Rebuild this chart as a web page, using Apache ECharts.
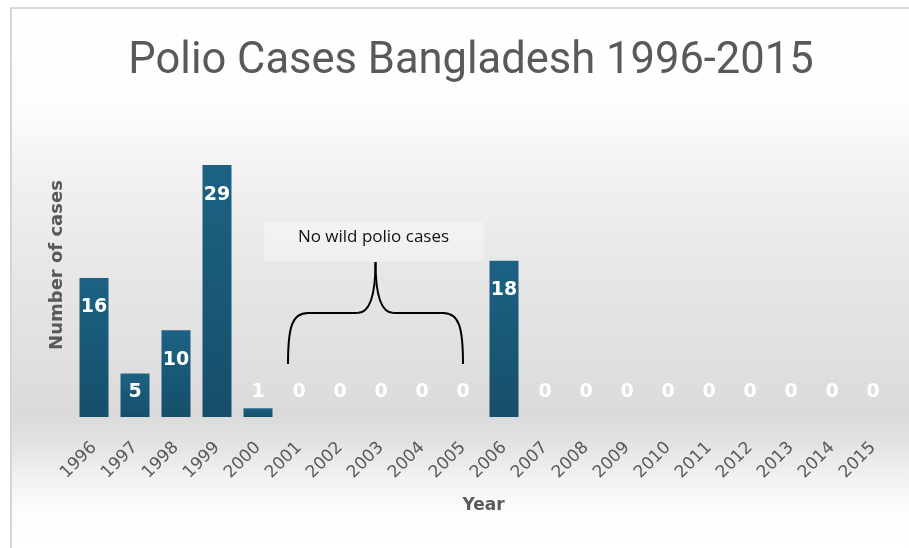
<!DOCTYPE html>
<html>
<head>
<meta charset="utf-8">
<script src="https://cdn.jsdelivr.net/npm/echarts@6/dist/echarts.min.js"></script>
<style>
  html, body { margin: 0; padding: 0; background: #ffffff; }
  #frame {
    position: absolute; left: 10px; top: 7px; width: 899px; height: 541px;
    border-left: 2px solid #d4d4d4; border-top: 2px solid #d9d9d9;
    background: linear-gradient(to bottom, #ffffff 0px, #fdfdfd 95px, #f2f2f2 160px, #e7e7e7 260px, #dfdfdf 360px, #dadada 405px, #e3e3e3 435px, #f2f2f2 470px, #fdfdfd 505px, #ffffff 541px);
  }
  #main { position: absolute; left: 0; top: 0; width: 909px; height: 548px; }
</style>
</head>
<body>
<div id="frame"></div>
<div id="main"></div>
<script>
const chartTitle = 'Polio Cases Bangladesh 1996-2015';
const years = ['1996','1997','1998','1999','2000','2001','2002','2003','2004','2005',
               '2006','2007','2008','2009','2010','2011','2012','2013','2014','2015'];
const cases = [16, 5, 10, 29, 1, 0, 0, 0, 0, 0, 18, 0, 0, 0, 0, 0, 0, 0, 0, 0];
const xAxisTitle = 'Year';
const yAxisTitle = 'Number of cases';
const noteText = 'No wild polio cases';
const noteFrom = '2001';
const noteTo = '2005';

const chart = echarts.init(document.getElementById('main'), null, { renderer: 'canvas' });

const barData = cases.map(v => ({
  value: v,
  label: v >= 8
    ? { position: 'insideTop', distance: 20 }
    : { position: 'insideBottom', distance: 15 }
}));

const option = {
  backgroundColor: 'transparent',
  animation: false,
  title: {
    text: chartTitle,
    left: 466,
    top: 35,
    textAlign: 'center',
    textStyle: { fontFamily: 'Roboto', fontSize: 43.5, fontWeight: 'normal', color: '#595959' }
  },
  grid: { left: 73.5, right: 15.5, top: 113, bottom: 131 },
  xAxis: {
    type: 'category',
    data: years,
    axisLine: { show: false },
    axisTick: { show: false },
    axisLabel: {
      interval: 0, rotate: 45, margin: 28,
      fontFamily: 'DejaVu Sans', fontSize: 17, color: '#595959'
    },
    name: xAxisTitle,
    nameLocation: 'middle',
    nameGap: 80,
    nameTextStyle: { fontFamily: 'DejaVu Sans', fontSize: 17, fontWeight: 'bold', color: '#595959' }
  },
  yAxis: {
    type: 'value',
    min: 0,
    max: 35,
    axisLine: { show: false },
    axisTick: { show: false },
    axisLabel: { show: false },
    splitLine: { show: false },
    name: yAxisTitle,
    nameLocation: 'middle',
    nameGap: 7,
    nameTextStyle: { fontFamily: 'DejaVu Sans', fontSize: 18, fontWeight: 'bold', color: '#595959' }
  },
  series: [{
    type: 'bar',
    data: barData,
    barWidth: 29,
    itemStyle: {
      color: new echarts.graphic.LinearGradient(0, 0, 0, 1, [
        { offset: 0, color: '#1c6283' },
        { offset: 1, color: '#164e6b' }
      ])
    },
    label: {
      show: true,
      color: '#ffffff',
      fontFamily: 'DejaVu Sans',
      fontWeight: 'bold',
      fontSize: 19
    }
  }]
};

chart.setOption(option);

// Annotation (brace + note box) anchored to the axes
const pFrom = chart.convertToPixel({ xAxisIndex: 0, yAxisIndex: 0 }, [noteFrom, 0]);
const pTo = chart.convertToPixel({ xAxisIndex: 0, yAxisIndex: 0 }, [noteTo, 0]);
const x1 = pFrom[0] - 11;
const x2 = pTo[0];
const cx = (x1 + x2) / 2;
const base = pFrom[1];
const yb = base - 53;
const yh = base - 104;
const yt = base - 155;

const stroke = { stroke: '#000000', lineWidth: 2, fill: null };
function bez(a, b, c, d) {
  return {
    type: 'bezierCurve', z: 11, style: stroke,
    shape: { x1: a[0], y1: a[1], cpx1: b[0], cpy1: b[1], cpx2: c[0], cpy2: c[1], x2: d[0], y2: d[1] }
  };
}
function seg(a, b) {
  return { type: 'line', z: 11, style: stroke, shape: { x1: a[0], y1: a[1], x2: b[0], y2: b[1] } };
}

chart.setOption({
  graphic: [
    {
      type: 'rect',
      shape: { x: cx - 111, y: yt - 40, width: 219, height: 39 },
      style: { fill: 'rgba(255,255,255,0.35)' },
      z: 10
    },
    {
      type: 'text',
      x: cx - 2, y: yt - 25,
      style: {
        text: noteText, fontFamily: 'Open Sans', fontSize: 17,
        fill: '#111111', align: 'center', verticalAlign: 'middle'
      },
      z: 11
    },
    bez([x1, yb], [x1, yh + 14], [x1 + 4, yh], [x1 + 20, yh]),
    seg([x1 + 20, yh], [cx - 18, yh]),
    bez([cx - 18, yh], [cx - 6, yh], [cx, yh - 16], [cx, yt]),
    bez([cx, yt], [cx, yh - 16], [cx + 6, yh], [cx + 18, yh]),
    seg([cx + 18, yh], [x2 - 20, yh]),
    bez([x2 - 20, yh], [x2 - 4, yh], [x2, yh + 14], [x2, yb])
  ]
});
</script>
</body>
</html>
